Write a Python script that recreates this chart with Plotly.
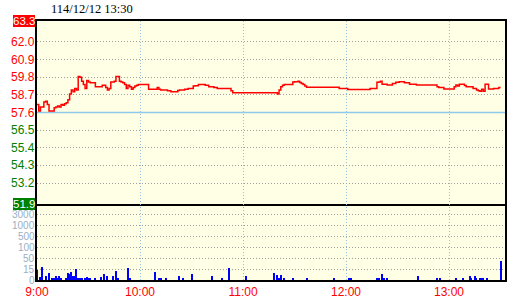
import numpy as np
import plotly.graph_objects as go

# ---- data ----
title_text = "114/12/12 13:30"
prev_close = 57.6
limit_up = 63.3
limit_down = 51.9
price_ticks = [62.0, 60.9, 59.8, 58.7, 57.6, 56.5, 55.4, 54.3, 53.2]

# minutes after 09:00 and price
price_min = [0, 1, 2, 4, 5, 6, 7, 10, 11, 12, 13, 14, 15, 16, 17, 18, 19, 20, 21, 22, 23, 24, 25, 26, 27, 28, 29, 30, 31, 34, 38, 40, 41, 42, 43, 45, 46, 48, 49, 50, 51, 52, 53, 54, 55, 56, 57, 58, 59, 65, 70, 71, 72, 76, 78, 82, 83, 86, 88, 91, 92, 94, 98, 100, 103, 105, 113, 114, 140, 141, 142, 143, 144, 149, 150, 152, 153, 154, 155, 156, 157, 176, 181, 194, 198, 199, 200, 201, 204, 207, 209, 211, 214, 217, 221, 233, 234, 237, 243, 244, 245, 246, 249, 250, 254, 256, 257, 258, 259, 260, 261, 263, 266, 269, 270]
price_val = [58.1, 57.7, 57.95, 58.25, 58.3, 58.1, 57.7, 57.9, 57.95, 58.0, 57.95, 58.1, 58.05, 58.15, 58.2, 58.4, 58.75, 59.0, 58.9, 59.1, 59.0, 59.85, 59.8, 59.55, 59.35, 59.1, 59.6, 59.5, 59.45, 59.2, 59.3, 59.15, 59.0, 59.1, 59.5, 59.55, 59.85, 59.55, 59.5, 59.45, 59.35, 59.1, 59.3, 59.2, 59.05, 59.15, 59.25, 59.3, 59.35, 59.05, 59.15, 59.05, 59.0, 58.95, 58.9, 58.97, 59.0, 59.05, 59.1, 59.25, 59.27, 59.35, 59.3, 59.2, 59.15, 59.1, 58.95, 58.83, 58.75, 59.0, 59.2, 59.3, 59.35, 59.5, 59.52, 59.55, 59.47, 59.4, 59.35, 59.25, 59.17, 59.1, 59.04, 59.1, 59.48, 59.5, 59.55, 59.36, 59.31, 59.41, 59.48, 59.52, 59.45, 59.36, 59.31, 59.2, 59.15, 59.06, 59.2, 59.31, 59.25, 59.36, 59.28, 59.2, 59.1, 59.0, 58.95, 58.93, 59.05, 58.93, 59.36, 59.06, 59.1, 59.15, 59.15]

vol_min = [0, 2, 3, 5, 7, 9, 10, 11, 12, 13, 14, 17, 18, 19, 20, 21, 22, 23, 24, 25, 26, 28, 29, 30, 31, 34, 37, 39, 41, 44, 46, 47, 53, 54, 69, 71, 72, 75, 83, 85, 90, 102, 108, 112, 122, 138, 140, 141, 142, 144, 149, 157, 173, 182, 183, 198, 199, 201, 202, 204, 222, 233, 235, 244, 248, 252, 253, 255, 256, 258, 259, 260, 262, 270]
vol_val = [14, 4, 22, 5, 10, 2, 3, 5, 3, 5, 2, 2, 10, 8, 11, 5, 6, 15, 2, 3, 3, 3, 4, 3, 2, 2, 4, 8, 5, 5, 12, 3, 20, 2, 11, 3, 2, 2, 6, 3, 8, 6, 3, 20, 6, 10, 7, 3, 7, 3, 3, 2, 2, 3, 3, 3, 3, 8, 3, 2, 5, 2, 3, 2, 2, 5, 2, 5, 2, 3, 3, 3, 2, 41]

vol_ticks = [0, 15, 50, 100, 500, 1000, 3000]
vol_tick_labels = ["0", "15", "50", "100", "500", "1000", "3000"]

hour_ticks = [0, 60, 120, 180, 240]
hour_labels = ["9:00", "10:00", "11:00", "12:00", "13:00"]
x_end = 272.6

# ---- transforms ----
tick_pos = list(range(len(vol_ticks)))
vol_pos = np.interp(vol_val, vol_ticks, tick_pos)

BG = "rgb(255,255,230)"
GRID_H = "#A0A0A0"
GRID_V = "#8EC0E0"
FONT = "Liberation Sans"
DOT = "1px,2px"

fig = go.Figure()
fig.add_trace(go.Scatter(x=[0, x_end], y=[prev_close, prev_close], mode="lines",
                         line=dict(color="#8EC8EC", width=1.5), xaxis="x", yaxis="y",
                         hoverinfo="skip"))
fig.add_trace(go.Scatter(x=price_min, y=price_val, mode="lines", line_shape="hv",
                         line=dict(color="#FF0000", width=1.5), xaxis="x", yaxis="y"))
fig.add_trace(go.Bar(x=vol_min, y=vol_pos, width=0.6, marker=dict(color="#0000FF", line_width=0),
                     xaxis="x2", yaxis="y2"))

vol_frac = 76 / 259
ax_common = dict(showline=True, linecolor="black", linewidth=2, zeroline=False,
                 ticks="", automargin=False)
fig.update_layout(
    width=520, height=300,
    margin=dict(l=37, r=15, t=21, b=20, autoexpand=False),
    paper_bgcolor="white", plot_bgcolor=BG,
    showlegend=False, bargap=0,
    xaxis=dict(domain=[0, 1], range=[0, x_end], anchor="y", tickvals=hour_ticks,
               showticklabels=False, showgrid=True, gridcolor=GRID_V, griddash=DOT,
               gridwidth=1, mirror=True, **ax_common),
    yaxis=dict(domain=[vol_frac, 1], range=[limit_down, limit_up], anchor="x",
               tickvals=price_ticks, showticklabels=False, showgrid=True,
               gridcolor=GRID_H, griddash=DOT, gridwidth=1, mirror=True, **ax_common),
    xaxis2=dict(domain=[0, 1], range=[0, x_end], anchor="y2", tickvals=hour_ticks,
                ticktext=hour_labels, showticklabels=True,
                tickfont=dict(family=FONT, size=12, color="#FF0000"),
                showgrid=True, gridcolor=GRID_V, griddash=DOT, gridwidth=1,
                mirror=False, **ax_common),
    yaxis2=dict(domain=[0, vol_frac], range=[0, 7], anchor="x2", tickvals=tick_pos[1:],
                showticklabels=False, showgrid=True, gridcolor=GRID_H, griddash=DOT,
                gridwidth=1, mirror=True, **ax_common),
)

ann = []
ann.append(dict(text=title_text, xref="paper", yref="paper", x=(49 - 37) / 468,
                y=1 + 12 / 259, xanchor="left", yanchor="middle", showarrow=False,
                font=dict(family="Liberation Serif", size=12.5, color="black")))
for v in price_ticks:
    ann.append(dict(text=f"{v:.1f}", xref="paper", yref="y", x=0, y=v, xanchor="right",
                    yanchor="middle", showarrow=False, xshift=0,
                    font=dict(family=FONT, size=12,
                              color="#FF0000" if v >= prev_close else "#008000")))
ann.append(dict(text=f"{limit_up:.1f}", xref="paper", yref="y", x=0, y=limit_up,
                xanchor="right", yanchor="middle", showarrow=False, bgcolor="#FF0000",
                borderpad=0, borderwidth=0, xshift=-2,
                font=dict(family=FONT, size=11.5, color="white")))
ann.append(dict(text=f"{limit_down:.1f}", xref="paper", yref="y", x=0, y=limit_down,
                xanchor="right", yanchor="middle", showarrow=False, bgcolor="#008000",
                borderpad=0, borderwidth=0, xshift=-2,
                font=dict(family=FONT, size=11.5, color="white")))
for p, lab in zip(tick_pos, vol_tick_labels):
    ann.append(dict(text=lab, xref="paper", yref="y2", x=0, y=p, xanchor="right",
                    yanchor="middle", showarrow=False,
                    font=dict(family=FONT, size=10, color="#9AB0C4")))
fig.update_layout(annotations=ann)

fig.write_html("out.html")
